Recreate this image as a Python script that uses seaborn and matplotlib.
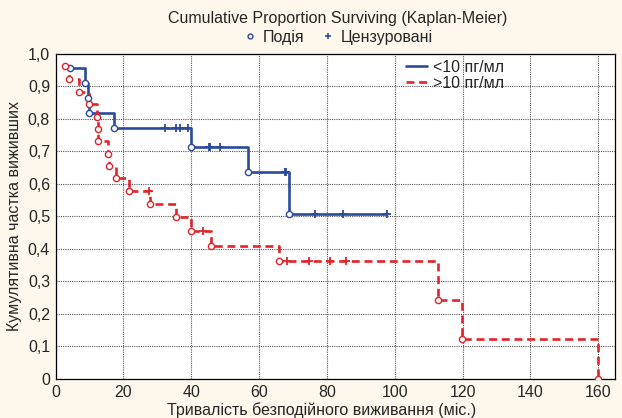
import pandas as pd
import seaborn as sns
import matplotlib.pyplot as plt
from matplotlib.lines import Line2D

# Step points (time, survival)
low_t = [4.2, 8.6, 9.6, 9.9, 17.2, 40.0, 56.7, 68.8, 97.6]
low_s = [0.955, 0.909, 0.864, 0.818, 0.773, 0.714, 0.635, 0.508, 0.508]
low_cens_t = [32.2, 35.4, 36.8, 39.0, 45.2, 45.6, 48.6, 67.5, 68.0, 76.6, 84.7, 97.6]
low_cens_s = [0.773, 0.773, 0.773, 0.773, 0.714, 0.714, 0.714, 0.635, 0.635, 0.508, 0.508, 0.508]

high_t = [2.7, 4.0, 6.9, 9.9, 12.3, 12.4, 12.5, 15.5, 15.7, 17.8, 21.7, 27.8,
          35.4, 40.0, 45.7, 65.9, 112.8, 119.8, 159.8]
high_s = [0.963, 0.923, 0.884, 0.846, 0.807, 0.769, 0.733, 0.692, 0.655, 0.618, 0.578, 0.538,
          0.498, 0.455, 0.410, 0.363, 0.243, 0.123, 0.0]
high_cens_t = [27.6, 43.5, 68.2, 74.7, 80.8, 85.7]
high_cens_s = [0.578, 0.455, 0.363, 0.363, 0.363, 0.363]

groups = ['<10 пг/мл', '>10 пг/мл']
colors = {'<10 пг/мл': '#2b4a9c', '>10 пг/мл': '#e2242a'}

df = pd.concat([
    pd.DataFrame({'t': low_t, 's': low_s, 'group': groups[0]}),
    pd.DataFrame({'t': high_t, 's': high_s, 'group': groups[1]}),
])
# event markers: no circle on the last blue point (it is a censored end)
df_ev = pd.concat([
    pd.DataFrame({'t': low_t[:-1], 's': low_s[:-1], 'group': groups[0]}),
    pd.DataFrame({'t': high_t, 's': high_s, 'group': groups[1]}),
])
df_cens = pd.concat([
    pd.DataFrame({'t': low_cens_t, 's': low_cens_s, 'group': groups[0]}),
    pd.DataFrame({'t': high_cens_t, 's': high_cens_s, 'group': groups[1]}),
])

sns.set_style('white')
plt.rcParams['font.family'] = ['Liberation Sans', 'DejaVu Sans']

bg = '#fdf8eb'
fig = plt.figure(figsize=(6.22, 4.18), dpi=100, facecolor=bg)
ax = fig.add_axes([0.0895, 0.0933, 0.8995, 0.778])
ax.set_facecolor('white')

sns.lineplot(data=df, x='t', y='s', hue='group', style='group', palette=colors,
             dashes={groups[0]: '', groups[1]: (3, 1.8)}, estimator=None, sort=False,
             drawstyle='steps-post', linewidth=1.9, legend=False, ax=ax, zorder=3)
for g in groups:
    sub = df_ev[df_ev['group'] == g]
    sns.scatterplot(data=sub, x='t', y='s', marker='o', s=20, facecolor='white',
                    edgecolor=colors[g], linewidth=1.0, legend=False, ax=ax, zorder=4)
    subc = df_cens[df_cens['group'] == g]
    sns.scatterplot(data=subc, x='t', y='s', marker='+', s=32, color=colors[g],
                    linewidth=1.3, legend=False, ax=ax, zorder=4)

ax.set_xlim(0, 165)
ax.set_ylim(0, 1.0)
ax.set_xticks(range(0, 161, 20))
ax.set_yticks([i / 10 for i in range(11)])
ax.set_yticklabels(['0'] + [f'{i / 10:.1f}'.replace('.', ',') for i in range(1, 11)])
ax.tick_params(labelsize=11.5, length=0, pad=4)
ax.grid(True, linestyle=(0, (1, 1)), color='#555555', linewidth=0.8)
for sp in ax.spines.values():
    sp.set_color('black')
    sp.set_linewidth(0.9)

ax.set_xlabel('Тривалість безподійного виживання (міс.)', fontsize=11.5, labelpad=2)
ax.xaxis.set_label_coords(0.475, -0.07)
ax.set_ylabel('Кумулятивна частка виживших', fontsize=11.5, labelpad=4)

handles = [Line2D([], [], color=colors[groups[0]], lw=1.9),
           Line2D([], [], color=colors[groups[1]], lw=1.9, linestyle=(0, (3, 1.8)))]
ax.legend(handles, groups, loc='upper left', bbox_to_anchor=(0.6, 1.025), frameon=False,
          fontsize=11.5, handlelength=1.3, handletextpad=0.4, labelspacing=0.05)

fig.text(0.543, 0.955, 'Cumulative Proportion Surviving (Kaplan-Meier)', ha='center',
         va='center', fontsize=11.5)
mk = [Line2D([], [], marker='o', ms=3.5, mfc='none', mec=colors[groups[0]], ls='none'),
      Line2D([], [], marker='+', ms=5, color=colors[groups[0]], ls='none', mew=1.2)]
fig.legend(mk, ['Подія', 'Цензуровані'], loc='center', bbox_to_anchor=(0.543, 0.911),
           ncol=2, frameon=False, fontsize=11.5, handlelength=1.0, handletextpad=0.3,
           columnspacing=1.0)

fig.savefig('out.png', dpi=100, facecolor=bg)
